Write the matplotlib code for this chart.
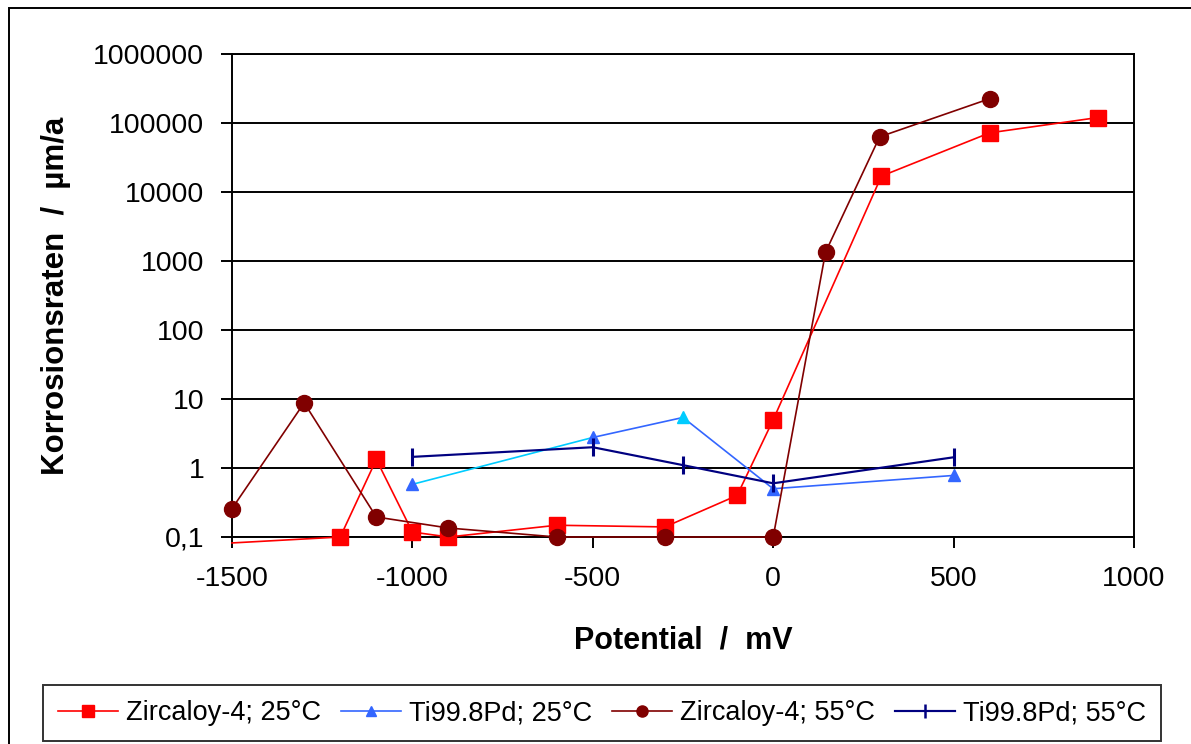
import matplotlib
matplotlib.use("Agg")
import matplotlib.pyplot as plt
from matplotlib.lines import Line2D
from matplotlib.patches import Rectangle
from matplotlib.ticker import FixedLocator, FixedFormatter, NullLocator

plt.rcParams['font.family'] = ['Liberation Sans', 'DejaVu Sans']

# ---- data ----
zr25_x = [-1500, -1200, -1100, -1000, -900, -600, -300, -100, 0, 300, 600, 900]
zr25_y = [0.082, 0.1, 1.33, 0.118, 0.1, 0.148, 0.14, 0.40, 5.0, 17000, 72000, 120000]

ti25_x = [-1000, -500, -250, 0, 500]
ti25_y = [0.58, 2.77, 5.4, 0.5, 0.78]

zr55_x = [-1500, -1300, -1100, -900, -600, -300, 0, 145, 295, 600]
zr55_y = [0.258, 8.8, 0.195, 0.135, 0.1, 0.1, 0.1, 1340, 63000, 225000]

ti55_x = [-1000, -500, -250, 0, 500]
ti55_y = [1.45, 2.0, 1.1, 0.6, 1.43]

labels = ["Zircaloy-4; 25°C", "Ti99.8Pd; 25°C", "Zircaloy-4; 55°C", "Ti99.8Pd; 55°C"]
x_ticks = [-1500, -1000, -500, 0, 500, 1000]
y_ticks = [0.1, 1, 10, 100, 1000, 10000, 100000, 1000000]
y_ticklabels = ["0,1", "1", "10", "100", "1000", "10000", "100000", "1000000"]
x_label = "Potential  /  mV"
y_label = "Korrosionsraten  /  µm/a"

c_red = "#FF0000"
c_blue = "#3366FF"
c_cyan = "#00CCFF"
c_brown = "#800000"
c_navy = "#000080"

W, H = 1191, 744
fig = plt.figure(figsize=(W / 100, H / 100), dpi=100)
ax = fig.add_axes([232 / W, 1 - 537 / H, (1134 - 232) / W, (537 - 54) / H])

lw = 1.2
# Zircaloy-4 25°C
ax.plot(zr25_x, zr25_y, color=c_red, lw=lw, marker='s', ms=12, mec=c_red, mfc=c_red,
        markevery=list(range(1, len(zr25_x))), clip_on=False, zorder=3)

# Ti99.8Pd 25°C (per-point colours)
ax.plot(ti25_x[1:], ti25_y[1:], color=c_blue, lw=lw, zorder=4)
ax.plot(ti25_x[:2], ti25_y[:2], color=c_cyan, lw=lw, zorder=4)
ax.plot(ti25_x, ti25_y, ls='none', marker='^', ms=9, color=c_blue,
        markevery=[0, 1, 3, 4], zorder=4)
ax.plot([ti25_x[2]], [ti25_y[2]], ls='none', marker='^', ms=9, color=c_cyan, zorder=4)

# Zircaloy-4 55°C
ax.plot(zr55_x, zr55_y, color=c_brown, lw=lw, marker='o', ms=11.5, mec=c_brown, mfc=c_brown,
        clip_on=False, zorder=5)

# Ti99.8Pd 55°C
ax.plot(ti55_x, ti55_y, color=c_navy, lw=lw * 1.3, marker='|', ms=13, mew=2.2, zorder=6)

ax.set_yscale('log')
ax.set_xlim(-1500, 1000)
ax.set_ylim(0.1, 1000000)
ax.yaxis.set_major_locator(FixedLocator(y_ticks))
ax.yaxis.set_major_formatter(FixedFormatter(y_ticklabels))
ax.yaxis.set_minor_locator(NullLocator())
ax.set_xticks(x_ticks)
ax.set_xticklabels([str(v) for v in x_ticks])

ax.grid(axis='y', color='black', lw=1.4)
ax.set_axisbelow(True)
for s in ax.spines.values():
    s.set_color('black')
    s.set_linewidth(1.4)
ax.tick_params(axis='both', direction='out', length=8, width=1.4, labelsize=20.5, color='black')
ax.tick_params(axis='x', pad=13)
ax.tick_params(axis='y', pad=12)

ax.set_xlabel(x_label, fontsize=22, fontweight='bold', labelpad=24)
ax.set_ylabel(y_label, fontsize=22.5, fontweight='bold', labelpad=16)

handles = [
    Line2D([], [], color=c_red, lw=lw, marker='s', ms=8),
    Line2D([], [], color=c_blue, lw=lw, marker='^', ms=7),
    Line2D([], [], color=c_brown, lw=lw, marker='o', ms=8),
    Line2D([], [], color=c_navy, lw=lw * 1.3, marker='|', ms=10, mew=1.8),
]
leg = fig.legend(handles, labels, loc='center', bbox_to_anchor=(602 / W, 1 - 713 / H),
                 ncol=4, fontsize=19.5, frameon=True, fancybox=False, edgecolor='black',
                 handlelength=2.2, handletextpad=0.3, columnspacing=0.75, borderpad=0.55)
leg.get_frame().set_linewidth(1.4)

fig.patches.append(Rectangle((9 / W, -0.05), 1.2, (1 - 8 / H) + 0.05, transform=fig.transFigure,
                             fill=False, edgecolor='black', lw=1.4))

fig.savefig("out.png", dpi=100)
